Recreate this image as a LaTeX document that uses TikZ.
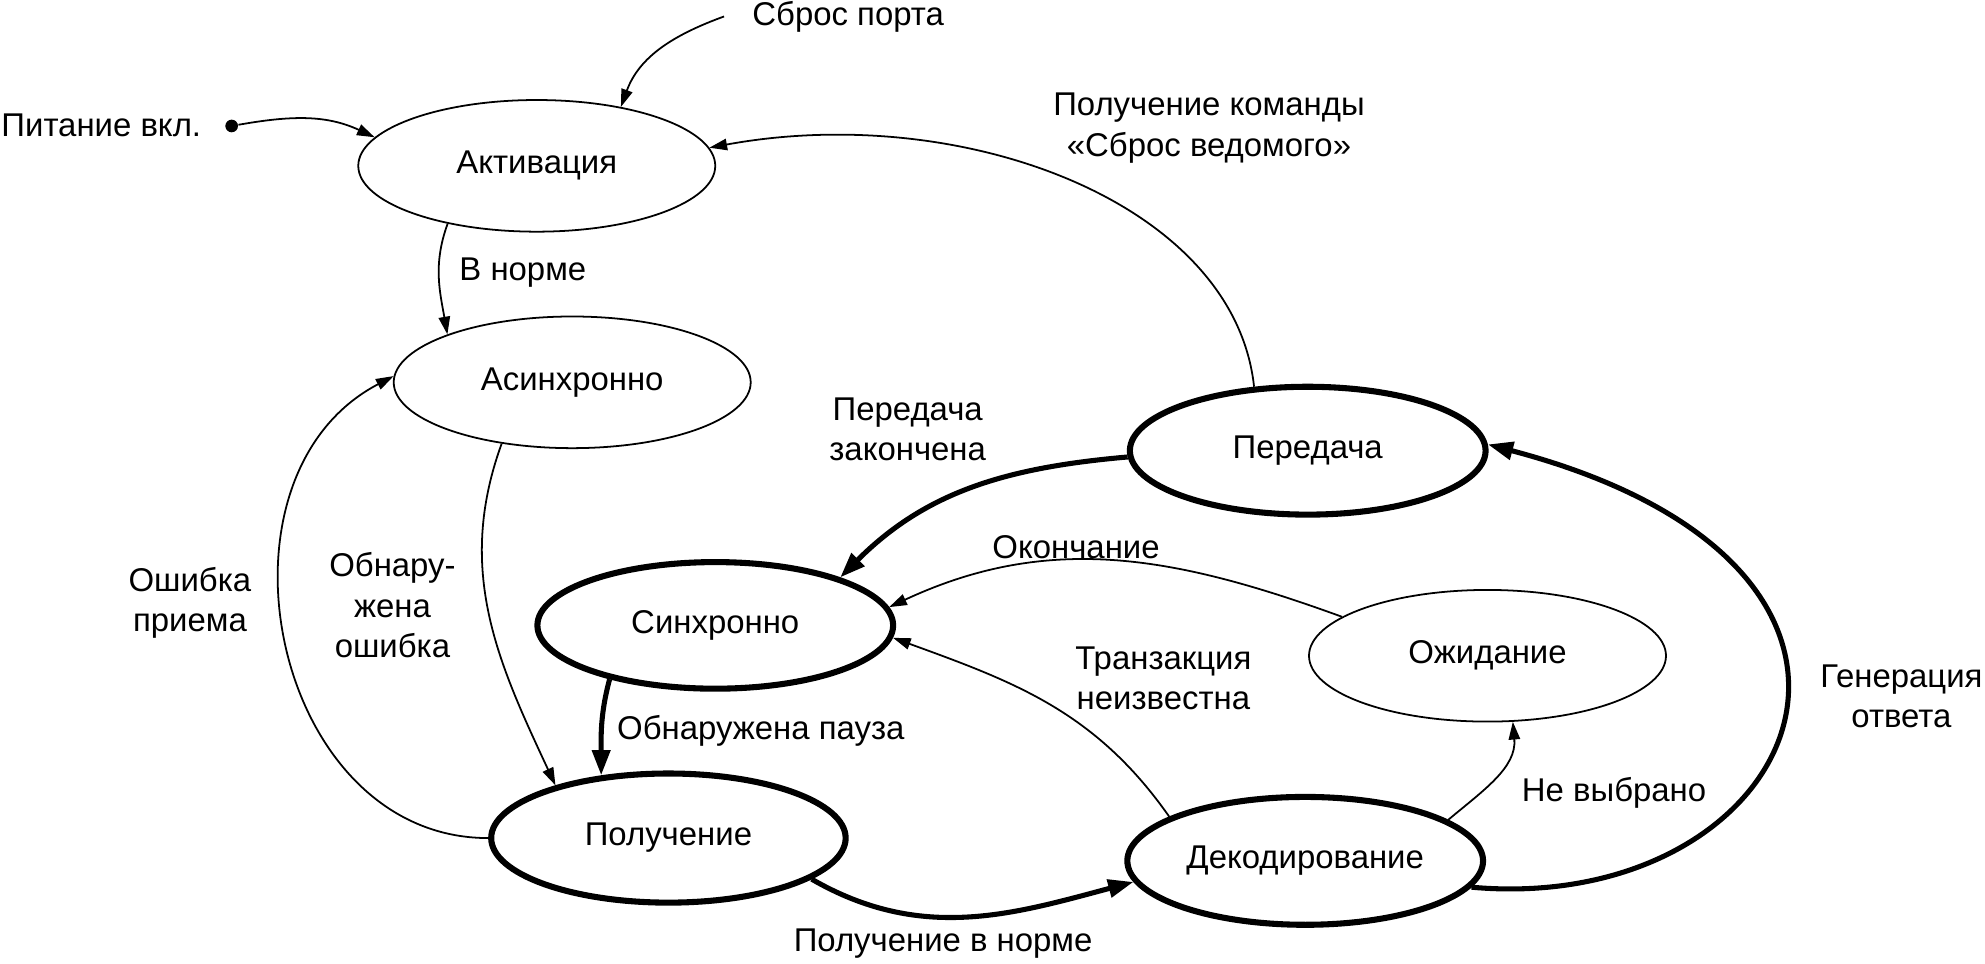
\documentclass[tikz,border=0pt]{standalone}
\usepackage{fontspec}
\setmainfont{Liberation Sans}
\usetikzlibrary{shapes.geometric,arrows.meta}
\begin{document}
\begin{tikzpicture}[x=0.5pt,y=-0.5pt,
  font=\fontsize{13}{16}\selectfont,
  thinst/.style={ellipse, draw, line width=0.7pt, inner sep=0pt},
  thickst/.style={thinst, line width=2.4pt},
  tr/.style={-{Triangle[length=7pt,width=4.5pt]}, line width=0.7pt},
  tk/.style={-{Triangle[length=10pt,width=7pt]}, line width=2pt},
  lbl/.style={align=center, inner sep=0pt}]
\useasboundingbox (0,0) rectangle (1568,761);
% states
\node[thinst, minimum width=141pt, minimum height=52pt] (act) at (424,131) {Активация};
\node[thinst, minimum width=141pt, minimum height=52pt] (asyn) at (452,302) {Асинхронно};
\node[thickst, minimum width=140.5pt, minimum height=50.5pt] (pered) at (1033,356) {Передача};
\node[thickst, minimum width=140.5pt, minimum height=50pt] (sync) at (565,494) {Синхронно};
\node[thinst, minimum width=141pt, minimum height=52pt] (ozh) at (1175,518) {Ожидание};
\node[thickst, minimum width=140pt, minimum height=51pt] (polu) at (528,662) {Получение};
\node[thickst, minimum width=140.5pt, minimum height=50.5pt] (deko) at (1031,680) {Декодирование};
% free texts
\node[lbl, inner xsep=11pt] (sbros) at (670,13) {Сброс порта};
\node[lbl] (pit) at (80,99) {Питание вкл.};
\node[circle, fill, inner sep=0pt, minimum size=5pt] (dot) at (183,99.5) {};
% labels
\node[lbl] (l1) at (955,101) {Получение команды\\«Сброс ведомого»};
\node[lbl] (l2) at (413,215) {В норме};
\node[lbl] (l3) at (717,339) {Передача\\закончена};
\node[lbl] (l4) at (850,432) {Окончание};
\node[lbl] (l5) at (150,476) {Ошибка\\приема};
\node[lbl] (l6) at (310,478) {Обнару-\\жена\\ошибка};
\node[lbl] (l7) at (919,536) {Транзакция\\неизвестна};
\node[lbl] (l8) at (1502,550) {Генерация\\ответа};
\node[lbl] (l9) at (601,577) {Обнаружена пауза};
\node[lbl] (l10) at (1275,626) {Не выбрано};
\node[lbl] (l11) at (745,745) {Получение в норме};
% connectors
\draw[tr] (dot) to[out=10,in=155] (act.170);
\draw[tr] (sbros.west) to[out=200,in=70] (act.35);
\draw[tr] (pered.130) .. controls (975,160) and (760,80) .. (act.6);
\draw[tr] (act.213) to[out=250,in=100] (asyn.159);
\draw[tr] (asyn.221) to[out=250,in=115] (polu.155);
\draw[tr] (polu.180) .. controls (215,662) and (158,377) .. (asyn.178);
\draw[tk] (sync.207) to[out=255,in=90] (polu.137);
\draw[tk] (polu.344) to[out=-30,in=195] (deko.187);
\draw[tk] (deko.351) .. controls (1421,724) and (1551,450) .. (pered.2);
\draw[tk] (pered.182) to[out=185,in=45] (sync.21);
\draw[tr] (ozh.165) to[out=160,in=25] (sync.6);
\draw[tr] (deko.162) to[out=125,in=-20] (sync.356);
\draw[tr] (deko.16) to[out=40,in=275] (ozh.291);
\end{tikzpicture}
\end{document}
